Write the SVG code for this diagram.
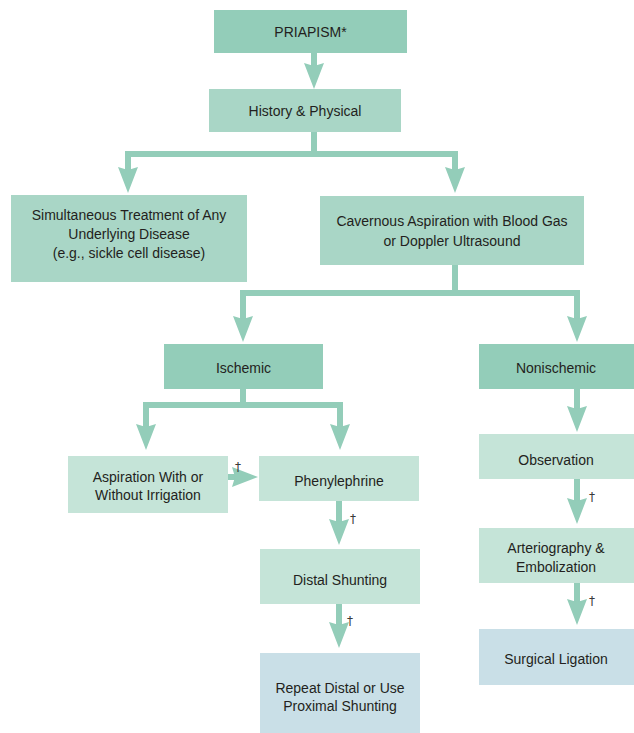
<svg xmlns="http://www.w3.org/2000/svg" width="634" height="733" viewBox="0 0 634 733">
  <style>
    .dark { fill: #93cdb9; }
    .mid { fill: #a9d6c6; }
    .light { fill: #c5e4d8; }
    .blue { fill: #c9dfe7; }
    text { font-family: "Liberation Sans", Arial, sans-serif; font-size: 14px; fill: #231f20; text-anchor: middle; }
    .dag { font-family: "DejaVu Sans", sans-serif; font-size: 12px; fill: #3a3a3a; }
    .conn path { fill: none; stroke: #93cdb9; stroke-width: 6; stroke-linejoin: miter; }
    .conn path.head { marker-end: url(#arrow); }
  </style>
  <defs>
    <marker id="arrow" markerUnits="userSpaceOnUse" markerWidth="28" markerHeight="24" refX="5" refY="12" orient="auto">
      <path d="M0,2 L26,12 L0,22 L3,12 Z" fill="#93cdb9"/>
    </marker>
  </defs>
  <rect width="634" height="733" fill="#ffffff"/>

  <!-- connectors -->
  <g id="connectors" class="conn">
    <path class="head" d="M314,53 V68"/>
    <path d="M314,132 V157"/>
    <path class="head" d="M314,154 H128 V172"/>
    <path class="head" d="M314,154 H455 V172"/>
    <path d="M455,265 V296"/>
    <path class="head" d="M455,293 H243 V321"/>
    <path class="head" d="M455,293 H577 V321"/>
    <path class="head" d="M577,389 V411"/>
    <path d="M243,389 V408"/>
    <path class="head" d="M243,405 H146 V429"/>
    <path class="head" d="M243,405 H340 V429"/>
    <path class="head" d="M228,477 H237"/>
    <path class="head" d="M339,501 V524"/>
    <path class="head" d="M339,604 V627"/>
    <path class="head" d="M577,479 V503"/>
    <path class="head" d="M577,583 V604"/>
    <text class="dag" x="238" y="471">†</text>
    <text class="dag" x="353" y="523">†</text>
    <text class="dag" x="350" y="625">†</text>
    <text class="dag" x="592" y="501">†</text>
    <text class="dag" x="592" y="605">†</text>
  </g>

  <!-- nodes -->
  <g id="priapism">
    <rect class="dark" x="214" y="10" width="193" height="43"/>
    <text x="310.5" y="37">PRIAPISM*</text>
  </g>
  <g id="history">
    <rect class="mid" x="209" y="89" width="192" height="43"/>
    <text x="305" y="116">History &amp; Physical</text>
  </g>
  <g id="underlying">
    <rect class="mid" x="11" y="195" width="236" height="87"/>
    <text x="129" y="220">Simultaneous Treatment of Any</text>
    <text x="129" y="239">Underlying Disease</text>
    <text x="129" y="258">(e.g., sickle cell disease)</text>
  </g>
  <g id="aspiration-gas">
    <rect class="mid" x="320" y="196" width="264" height="69"/>
    <text x="452" y="226">Cavernous Aspiration with Blood Gas</text>
    <text x="452" y="246">or Doppler Ultrasound</text>
  </g>
  <g id="ischemic">
    <rect class="dark" x="164" y="344" width="159" height="45"/>
    <text x="243.5" y="373">Ischemic</text>
  </g>
  <g id="nonischemic">
    <rect class="dark" x="479" y="344" width="155" height="45"/>
    <text x="556" y="373">Nonischemic</text>
  </g>
  <g id="irrigation">
    <rect class="light" x="68" y="456" width="160" height="57"/>
    <text x="148" y="482">Aspiration With or</text>
    <text x="148" y="500">Without Irrigation</text>
  </g>
  <g id="phenylephrine">
    <rect class="light" x="259" y="456" width="160" height="45"/>
    <text x="339" y="486">Phenylephrine</text>
  </g>
  <g id="distal">
    <rect class="light" x="260" y="549" width="160" height="55"/>
    <text x="340" y="585">Distal Shunting</text>
  </g>
  <g id="proximal">
    <rect class="blue" x="260" y="653" width="160" height="80"/>
    <text x="340" y="693">Repeat Distal or Use</text>
    <text x="340" y="711">Proximal Shunting</text>
  </g>
  <g id="observation">
    <rect class="light" x="479" y="434" width="155" height="45"/>
    <text x="556" y="465">Observation</text>
  </g>
  <g id="embolization">
    <rect class="light" x="479" y="528" width="155" height="55"/>
    <text x="556" y="553">Arteriography &amp;</text>
    <text x="556" y="572">Embolization</text>
  </g>
  <g id="ligation">
    <rect class="blue" x="479" y="629" width="155" height="56"/>
    <text x="556" y="664">Surgical Ligation</text>
  </g>
</svg>
